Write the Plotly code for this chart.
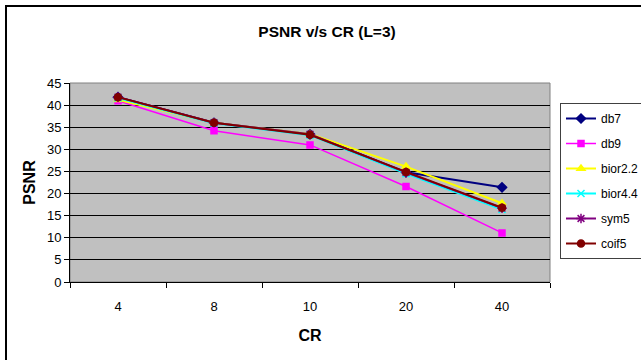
import plotly.graph_objects as go

categories = ["4", "8", "10", "20", "40"]
db7 = [41.8, 36.0, 33.4, 24.8, 21.4]
db9 = [41.0, 34.2, 31.0, 21.6, 11.1]
bior22 = [41.2, 36.0, 33.5, 26.1, 17.8]
bior44 = [41.6, 35.9, 33.2, 24.5, 16.4]
sym5 = [41.8, 36.0, 33.4, 24.8, 16.7]
coif5 = [41.8, 36.0, 33.3, 24.9, 16.8]

series = [
    ("db7", db7, "#000080", "diamond", 7, 2),
    ("db9", db9, "#FF00FF", "square", 6, 1.5),
    ("bior2.2", bior22, "#FFFF00", "triangle-up", 7, 2),
    ("bior4.4", bior44, "#00FFFF", "x-thin-open", 7, 2),
    ("sym5", sym5, "#800080", "asterisk-open", 8, 2),
    ("coif5", coif5, "#800000", "circle", 7, 2),
]

FONT = "Liberation Sans, Arial, sans-serif"
fig = go.Figure()
for name, vals, col, sym, ms, lw in series:
    fig.add_trace(go.Scatter(
        x=categories, y=vals, name=name, mode="lines+markers",
        legendgroup=name,
        line=dict(color=col, width=lw),
        marker=dict(symbol=sym, size=ms, color=col, line=dict(color=col, width=1.5)),
    ))

W, H = 641, 360
L, R, T, B = 70, 91, 83, 78
pw, ph = W - L - R, H - T - B

def px(x):
    return (x - L) / pw

def py(y):
    return (H - B - y) / ph

fig.update_layout(
    width=W, height=H,
    margin=dict(l=L, r=R, t=T, b=B, autoexpand=False),
    paper_bgcolor="white",
    plot_bgcolor="#C0C0C0",
    font=dict(family=FONT, size=13, color="black"),
    title=dict(text="<b>PSNR v/s CR (L=3)</b>", x=327 / W, xref="container", xanchor="center",
               y=1 - 32 / H, yref="container", yanchor="middle", font=dict(size=15.5)),
    showlegend=True,
    legend=dict(x=px(560), y=py(103), xanchor="left", yanchor="top",
                bgcolor="white", bordercolor="#404040", borderwidth=1,
                font=dict(size=12), tracegroupgap=6, itemwidth=30),
    xaxis=dict(type="category", range=[-0.5, 4.5], tickson="boundaries", ticks="outside", ticklen=5,
               tickcolor="black", showline=True, linecolor="black", linewidth=1,
               showgrid=False, ticklabelstandoff=12,
               title=dict(text="<b>CR</b>", standoff=17), tickfont=dict(size=13)),
    yaxis=dict(range=[0, 45], dtick=5, ticks="outside", ticklen=5, tickcolor="black",
               showline=True, linecolor="black", linewidth=1,
               gridcolor="black", gridwidth=1, zeroline=False,
               title=dict(text="<b>PSNR</b>", standoff=7), tickfont=dict(size=13)),
    shapes=[
        dict(type="rect", xref="paper", yref="paper", x0=0, x1=1, y0=0, y1=1,
             line=dict(color="#808080", width=1), layer="below"),
        dict(type="rect", xref="paper", yref="paper", x0=px(6), x1=px(660), y0=py(6), y1=py(380),
             line=dict(color="black", width=2), layer="above"),
    ],
)

fig.write_html("out.html")
